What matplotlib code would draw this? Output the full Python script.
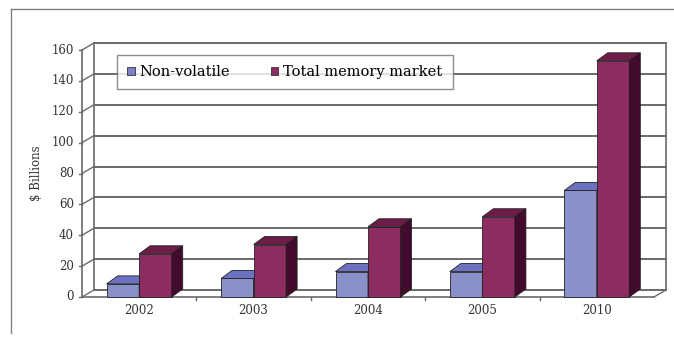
import matplotlib.pyplot as plt
from matplotlib.patches import Polygon, Rectangle
from matplotlib.lines import Line2D

years = ["2002", "2003", "2004", "2005", "2010"]
non_volatile = [8.5, 12, 16.5, 16.5, 69]
total_market = [28, 34, 45.5, 52, 153]
yticks = [0, 20, 40, 60, 80, 100, 120, 140, 160]

W, H = 674, 339
fig = plt.figure(figsize=(W / 100, H / 100), dpi=100)
plt.rcParams["font.family"] = ["DejaVu Serif"]

# front plane of the plot area, in pixels
left, right, bottom, top = 82, 654, 297, 50
ax = fig.add_axes([left / W, 1 - bottom / H, (right - left) / W, (bottom - top) / H])
ax.set_xlim(0, len(years))
ax.set_ylim(0, 160)
ax.axis("off")

ux = (right - left) / len(years)   # px per category
uy = (bottom - top) / 160          # px per unit
wx, wy = 12 / ux, 7 / uy           # wall depth
bx, by = 11 / ux, 8 / uy           # bar depth
bw = 32.5 / ux                     # bar width
grid = "#6a6a6a"
n = len(years)

# back wall gridlines + side wall diagonals + ticks
for v in yticks:
    ax.plot([wx, n + wx], [v + wy, v + wy], color=grid, lw=1.4, clip_on=False, zorder=1)
    ax.plot([0, wx], [v, v + wy], color=grid, lw=1.0, clip_on=False, zorder=1)
    ax.plot([-3 / ux, 0], [v, v], color=grid, lw=1.0, clip_on=False, zorder=1)
    ax.text(-8 / ux, v, str(v), ha="right", va="center", fontsize=8.5, color="#333333")

# wall edges and floor
ax.plot([wx, wx], [wy, 160 + wy], color=grid, lw=1.2, clip_on=False, zorder=1)
ax.plot([n + wx, n + wx], [wy, 160 + wy], color=grid, lw=1.2, clip_on=False, zorder=1)
ax.plot([0, 0], [0, 160], color=grid, lw=1.2, clip_on=False, zorder=1)
ax.plot([0, n], [0, 0], color=grid, lw=1.2, clip_on=False, zorder=1)
ax.plot([n, n + wx], [0, wy], color=grid, lw=1.0, clip_on=False, zorder=1)
for i in range(1, n):
    ax.plot([i, i], [0, -3 / uy], color=grid, lw=1.0, clip_on=False, zorder=1)


def bar3d(x0, h, front, topc, side, z):
    ax.add_patch(Rectangle((x0, 0), bw, h, fc=front, ec="#222222", lw=0.6, zorder=z, clip_on=False))
    ax.add_patch(Polygon([(x0, h), (x0 + bw, h), (x0 + bw + bx, h + by), (x0 + bx, h + by)],
                         fc=topc, ec="#222222", lw=0.6, zorder=z, clip_on=False))
    ax.add_patch(Polygon([(x0 + bw, 0), (x0 + bw + bx, by), (x0 + bw + bx, h + by), (x0 + bw, h)],
                         fc=side, ec="#222222", lw=0.6, zorder=z, clip_on=False))


for i, (a, b) in enumerate(zip(non_volatile, total_market)):
    c = i + 0.5
    bar3d(c - bw, a, "#8a90c8", "#6c72c2", "#4a4f95", 3)
    bar3d(c, b, "#8c2c60", "#6e1c48", "#420a2c", 4)
    ax.text(c, -13 / uy, years[i], ha="center", va="center", fontsize=8.5, color="#333333")

ax.text(-46 / ux, 80, "$ Billions", rotation=90, ha="center", va="center", fontsize=8.5, color="#333333")

handles = [Rectangle((0, 0), 1, 1, fc="#7b80c8", ec="#333333", lw=0.6),
           Rectangle((0, 0), 1, 1, fc="#8c2c60", ec="#333333", lw=0.6)]
leg = fig.legend(handles, ["Non-volatile", "Total memory market"], ncol=2, loc="center",
                 bbox_to_anchor=(285 / W, 1 - 72 / H), fontsize=10.5, frameon=True, fancybox=False,
                 handlelength=0.5, handleheight=0.5, handletextpad=0.35, columnspacing=2.8,
                 borderpad=0.7, borderaxespad=0)
leg.get_frame().set_edgecolor("#707070")
leg.get_frame().set_linewidth(1.0)
leg.set_zorder(10)

# outer frame
fig.add_artist(Line2D([11 / W, 1], [1 - 9 / H, 1 - 9 / H], color="#808080", lw=1.0))
fig.add_artist(Line2D([11 / W, 11 / W], [1 - 9 / H, 1 - 333 / H], color="#808080", lw=1.0))

fig.savefig("out.png", dpi=100)
